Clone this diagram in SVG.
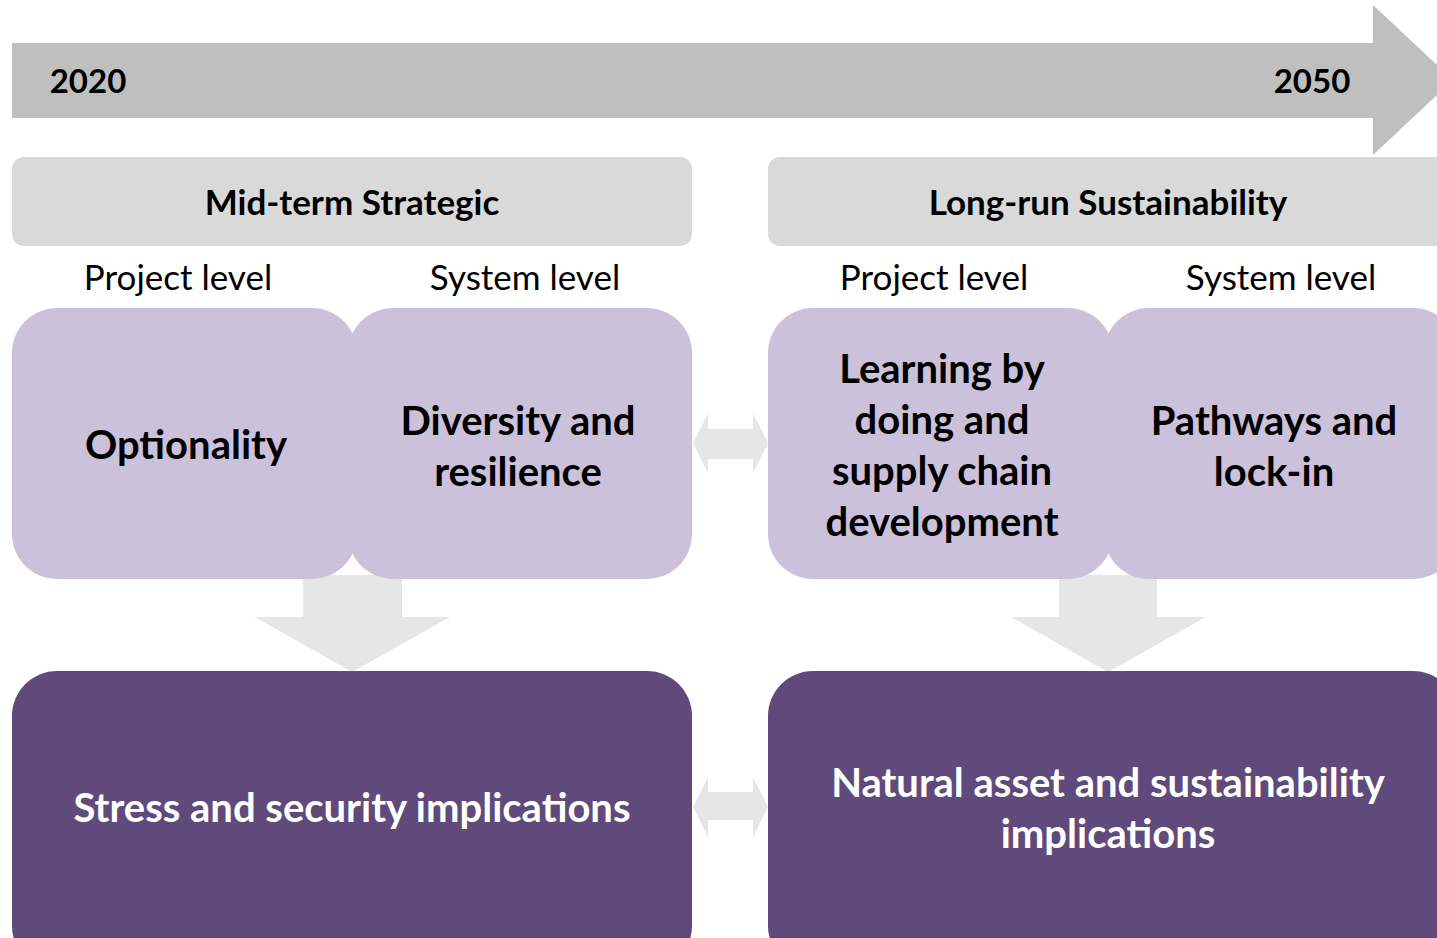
<svg xmlns="http://www.w3.org/2000/svg" width="1437" height="938" viewBox="0 0 1437 938">
<style>
.t{font-family:Lato,"Liberation Sans",sans-serif;text-anchor:middle}
.b{font-weight:bold}
.hdr{fill:#D9D9D9}
.lp{fill:#CCC1DA}
.dp{fill:#604A7B}
.ga{fill:#E6E6E6}
</style>
<rect width="1437" height="938" fill="#FFFFFF"/>
<g id="timeline">
<polygon points="12,43 1373,43 1373,5 1453,80 1373,155 1373,118 12,118" fill="#BFBFBF"/>
<text class="t b" x="88" y="93" font-size="33">2020</text>
<text class="t b" x="1312" y="93" font-size="33">2050</text>
</g>
<g id="connectors">
<polygon class="ga" points="303,575 402,575 402,617 450,617 352,672 255,617 303,617"/>
<polygon class="ga" points="1059,575 1157,575 1157,617 1206,617 1108,672 1011,617 1059,617"/>
<polygon class="ga" points="693,443 708,413 708,429 753,429 753,413 768,443 753,473 753,459 708,459 708,473"/>
<polygon class="ga" points="693,807 708,777 708,792 753,792 753,777 768,807 753,837 753,820 708,820 708,837"/>
</g>
<g id="hdr-mid">
<rect class="hdr" x="12" y="157" width="680" height="89" rx="12"/>
<text class="t b" x="352" y="215" font-size="35">Mid-term Strategic</text>
</g>
<g id="hdr-long">
<rect class="hdr" x="768" y="157" width="690" height="89" rx="12"/>
<text class="t b" x="1108" y="215" font-size="35">Long-run Sustainability</text>
</g>
<g id="labels">
<text class="t" x="178" y="290" font-size="35">Project level</text>
<text class="t" x="525" y="290" font-size="35">System level</text>
<text class="t" x="934" y="290" font-size="35">Project level</text>
<text class="t" x="1281" y="290" font-size="35">System level</text>
</g>
<g id="optionality">
<rect class="lp" x="12" y="308" width="345" height="271" rx="45"/>
<text class="t b" x="186" y="459" font-size="40">Optionality</text>
</g>
<g id="diversity">
<rect class="lp" x="348" y="308" width="344" height="271" rx="45"/>
<text class="t b" x="518" y="435" font-size="40">Diversity and</text>
<text class="t b" x="518" y="486" font-size="40">resilience</text>
</g>
<g id="learning">
<rect class="lp" x="768" y="308" width="345" height="271" rx="45"/>
<text class="t b" x="942" y="383" font-size="40">Learning by</text>
<text class="t b" x="942" y="434" font-size="40">doing and</text>
<text class="t b" x="942" y="485" font-size="40">supply chain</text>
<text class="t b" x="942" y="536" font-size="40">development</text>
</g>
<g id="pathways">
<rect class="lp" x="1104" y="308" width="354" height="271" rx="45"/>
<text class="t b" x="1274" y="435" font-size="40">Pathways and</text>
<text class="t b" x="1274" y="486" font-size="40">lock-in</text>
</g>
<g id="stress">
<rect class="dp" x="12" y="671" width="680" height="300" rx="45"/>
<text class="t b" x="352" y="822" font-size="40" fill="#FFFFFF">Stress and security implications</text>
</g>
<g id="natural">
<rect class="dp" x="768" y="671" width="690" height="300" rx="45"/>
<text class="t b" x="1108" y="797" font-size="40" fill="#FFFFFF">Natural asset and sustainability</text>
<text class="t b" x="1108" y="848" font-size="40" fill="#FFFFFF">implications</text>
</g>
</svg>
